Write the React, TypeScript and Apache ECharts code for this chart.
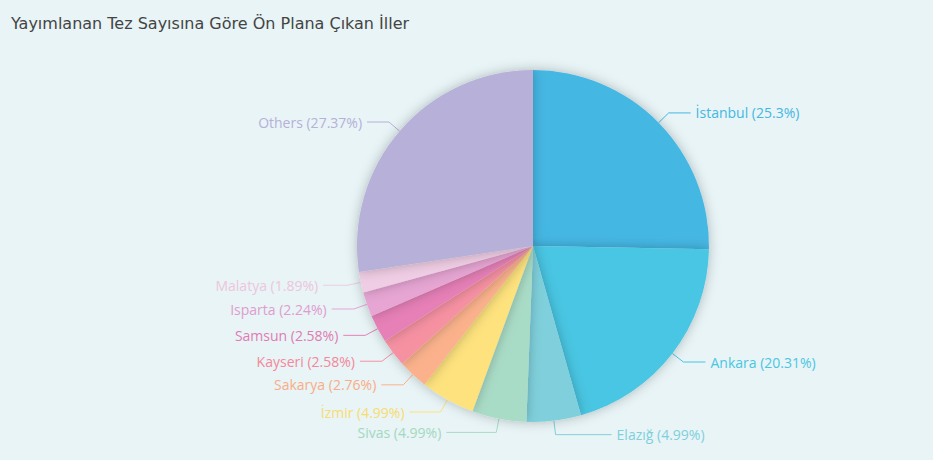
import React, { useEffect, useRef } from "react";
import * as echarts from "echarts";

const titleText = "Yayımlanan Tez Sayısına Göre Ön Plana Çıkan İller";
const names = ["İstanbul", "Ankara", "Elazığ", "Sivas", "İzmir", "Sakarya", "Kayseri", "Samsun", "Isparta", "Malatya", "Others"];
const values = [25.3, 20.31, 4.99, 4.99, 4.99, 2.76, 2.58, 2.58, 2.24, 1.89, 27.37];
const colors = ["#45b7e3", "#4ac6e3", "#7fd0dc", "#a9dcc6", "#fde27d", "#fbb28c", "#f691a2", "#e680b7", "#e6a5d3", "#efcde4", "#b7b0d8"];
const labelColors = ["#45b7e3", "#4ac6e3", "#7fd0dc", "#a3d8c0", "#f8dc6e", "#f9ad86", "#f4879a", "#e17bb2", "#e19ccd", "#eec5dd", "#b7b0d8"];
const connectorLength2 = [22, 22, 56, 50, 31, 22, 22, 22, 22, 24, 22];

export default function App() {
  const ref = useRef<HTMLDivElement>(null);
  useEffect(() => {
    document.body.style.margin = "0";
    const chart = echarts.init(ref.current!, null, { renderer: "svg" });
    chart.setOption({
      animation: false,
      backgroundColor: "#e8f4f6",
      title: {
        text: titleText,
        left: 6,
        top: 10,
        textStyle: { color: "#444", fontSize: 16, fontWeight: "normal", fontFamily: "DejaVu Sans" },
      },
      series: [
        {
          type: "pie",
          center: [533, 246],
          radius: 176,
          startAngle: 90,
          clockwise: true,
          data: names.map((n, i) => ({
            name: n,
            value: values[i],
            itemStyle: { color: colors[i] },
            label: { color: labelColors[i] },
            labelLine: { length2: connectorLength2[i] },
          })),
          label: {
            formatter: "{b} ({d}%)",
            fontSize: 14,
            fontFamily: "Open Sans",
          },
          labelLine: { length: 14, length2: 22, smooth: false },
          itemStyle: { shadowBlur: 12, shadowColor: "rgba(0,0,0,0.25)" },
        },
      ],
    });
    return () => chart.dispose();
  }, []);
  return <div ref={ref} style={{ width: 933, height: 460 }} />;
}
